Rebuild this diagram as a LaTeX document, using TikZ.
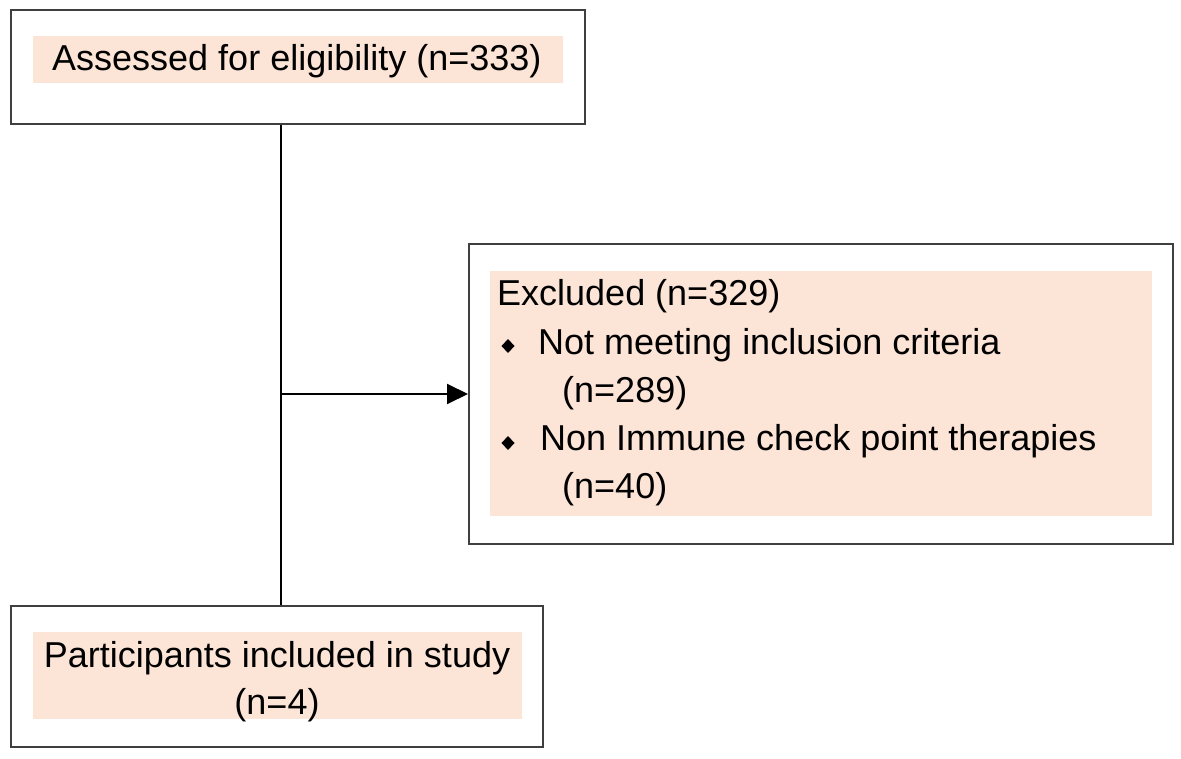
\documentclass[tikz,border=0pt]{standalone}
\usepackage{fontspec}
\setmainfont{Liberation Sans}
\usetikzlibrary{arrows.meta}
\definecolor{peach}{HTML}{FCE4D6}
\definecolor{frame}{HTML}{3F3F3F}
\begin{document}
\begin{tikzpicture}[x=1pt,y=-1pt,
  boxnode/.style={draw=frame, line width=2pt, fill=white, inner sep=0pt, anchor=north west},
  shade/.style={fill=peach, draw=none, inner sep=0pt, anchor=north west},
  txt/.style={inner sep=0pt, anchor=base west, font=\fontsize{36}{48}\selectfont},
  bulletmark/.style={fill=black},
  conn/.style={line width=2pt, draw=black}]
\useasboundingbox (0,0) rectangle (1181,759);
\fill[white] (0,0) rectangle (1181,759);
% boxes
\node[boxnode, minimum width=574pt, minimum height=114pt] (top) at (10,9) {};
\node[boxnode, minimum width=704pt, minimum height=300pt] (excl) at (468,243) {};
\node[boxnode, minimum width=532pt, minimum height=141pt] (bot) at (10,605) {};
% shaded backgrounds
\node[shade, minimum width=530pt, minimum height=47pt] (shtop) at (33,36) {};
\node[shade, minimum width=662pt, minimum height=245pt] (shexcl) at (490,271) {};
\node[shade, minimum width=489pt, minimum height=87pt] (shbot) at (33,632) {};
% texts
\node[txt] (t1) at (52,71) {Assessed for eligibility (n=333)};
\node[txt] (e0) at (497,306) {Excluded (n=329)};
\node[txt] (e1) at (538,355) {Not meeting inclusion criteria};
\node[txt] (e2) at (562,402) {(n=289)};
\node[txt] (e3) at (540,450) {Non Immune check point therapies};
\node[txt] (e4) at (562,498) {(n=40)};
\node[txt, anchor=base] (b1) at (277,667) {Participants included in study};
\node[txt, anchor=base] (b2) at (277,714) {(n=4)};
% bullets
\fill[bulletmark] (508,339) -- (514.5,346) -- (508,353) -- (501.5,346) -- cycle;
\fill[bulletmark] (508,436) -- (514.5,443) -- (508,450) -- (501.5,443) -- cycle;
% connectors
\coordinate (split) at (281,394);
\draw[conn] (top.south -| split) -- (bot.north -| split);
\draw[conn, -{Triangle[length=21pt,width=20pt]}] (split) -- (split -| excl.west);
\end{tikzpicture}
\end{document}
